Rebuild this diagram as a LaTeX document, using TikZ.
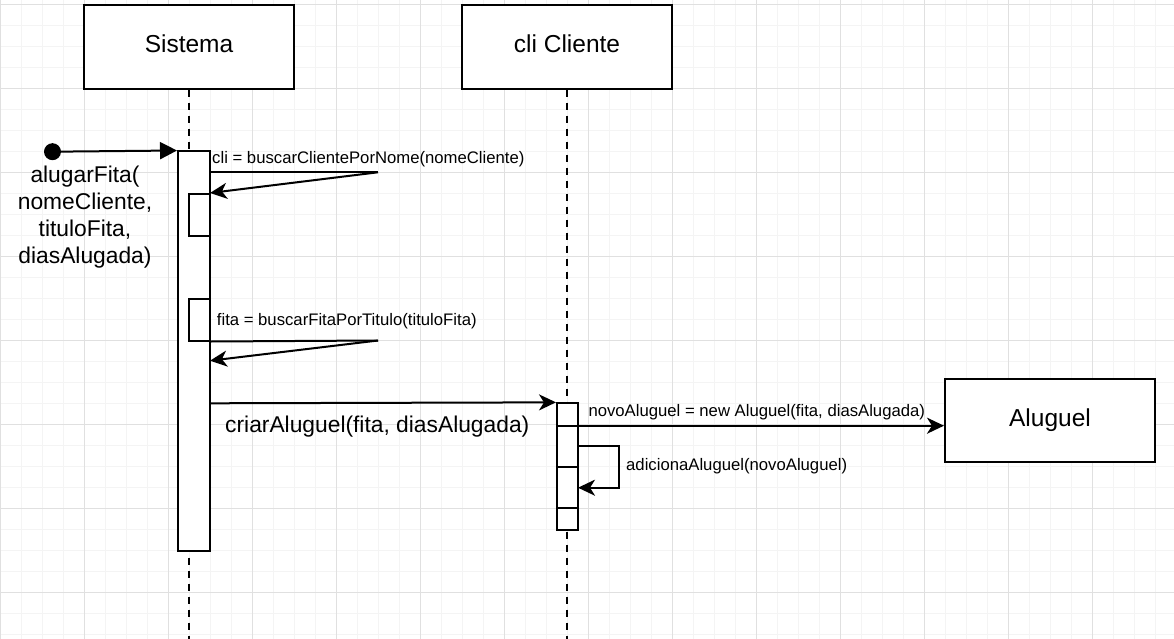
\documentclass[tikz,border=0pt]{standalone}
\usepackage{fontspec}
\setmainfont{Liberation Sans}
\usetikzlibrary{arrows.meta}
\definecolor{minorgrid}{RGB}{244,244,244}
\definecolor{majorgrid}{RGB}{224,224,224}
\tikzset{
  minorline/.style={draw=minorgrid, line width=1pt},
  majorline/.style={draw=majorgrid, line width=1pt},
  titlebox/.style={draw, line width=2pt, fill=white, minimum width=210pt, minimum height=84pt, inner sep=0pt, text height=18.4pt, text depth=6.4pt, font=\fontsize{24.5}{29}\selectfont},
  actbar/.style={draw, line width=2pt, fill=white, inner sep=0pt},
  lifeline/.style={line width=2pt, dash pattern=on 7pt off 6pt},
  msg/.style={line width=2pt, -{Stealth[length=17pt,width=16pt,inset=5pt]}},
  callmsg/.style={line width=2pt, -{Triangle[length=17pt,width=17pt]}},
  smalllabel/.style={anchor=west, inner sep=0pt, font=\fontsize{16.7}{20}\selectfont},
  biglabel/.style={inner sep=0pt, font=\fontsize{22.8}{27}\selectfont, align=center}
}
\begin{document}
\begin{tikzpicture}[x=1pt, y=-1pt]
\useasboundingbox (0,0) rectangle (1174,639);
% grid
\foreach \i in {0,...,56} \draw[minorline] ({0.3+21*\i},0) -- ({0.3+21*\i},639);
\foreach \j in {0,...,30} \draw[minorline] (0,{4.3+21*\j}) -- (1174,{4.3+21*\j});
\foreach \i in {0,...,13} \draw[majorline] ({0.3+84*\i},0) -- ({0.3+84*\i},639);
\foreach \j in {0,...,7} \draw[majorline] (0,{4.3+84*\j}) -- (1174,{4.3+84*\j});

% participants
\node[titlebox] (sis) at (189,46.7) {Sistema};
\node[titlebox] (cli) at (567,46.7) {cli Cliente};
\node[titlebox, minimum height=83pt] (alu) at (1050,420.5) {Aluguel};

% lifelines
\coordinate (sisbot) at (189,639);
\coordinate (clibot) at (567,639);
\draw[lifeline] (sis.south) -- (sisbot);
\draw[lifeline] (cli.south) -- (clibot);

% activation bars
\node[actbar, minimum width=32pt, minimum height=399.5pt] (bar1) at (194,351.25) {};
\node[actbar, minimum width=21pt, minimum height=42pt] (box1) at (199.5,215) {};
\node[actbar, minimum width=21pt, minimum height=42pt] (box2) at (199.5,319.5) {};
\node[actbar, minimum width=21pt, minimum height=126.7pt] (bar2) at (567.5,466.7) {};
\node[actbar, minimum width=21pt, minimum height=41.6pt] (box3) at (567.5,487.5) {};

% initial call
\node[circle, fill=black, minimum size=17pt, inner sep=0pt] (start) at (52.5,151.7) {};
\draw[callmsg] (start) -- (bar1.north west);
\node[biglabel] (startlbl) at (85,217) {alugarFita(\\nomeCliente,\\tituloFita,\\diasAlugada)};

% buscarClientePorNome
\coordinate (m1a) at (378,172.3);
\coordinate (m1t) at (210,193);
\draw[line width=2pt] (bar1.east |- m1a) -- (m1a);
\draw[msg] (m1a) -- (m1t);
\node[smalllabel] (m1lbl) at (212,159) {cli = buscarClientePorNome(nomeCliente)};

% buscarFitaPorTitulo
\coordinate (m2a) at (378,340.5);
\coordinate (m2t) at (210,360.7);
\draw[line width=2pt] (box2.south east) -- (m2a);
\draw[msg] (m2a) -- (m2t);
\node[smalllabel] (m2lbl) at (216.7,320.7) {fita = buscarFitaPorTitulo(tituloFita)};

% criarAluguel
\coordinate (m3a) at (210,403.3);
\draw[msg] (m3a) -- (bar2.north west);
\node[biglabel, anchor=west] (m3lbl) at (225,426.7) {criarAluguel(fita, diasAlugada)};

% new Aluguel
\coordinate (m4a) at (557,425.7);
\draw[msg] (m4a) -- (alu.west |- m4a);
\node[smalllabel] (m4lbl) at (588.3,411.7) {novoAluguel = new Aluguel(fita, diasAlugada)};

% adicionaAluguel
\coordinate (m5a) at (578,445.7);
\coordinate (m5b) at (619.3,445.7);
\coordinate (m5c) at (619.3,487.7);
\coordinate (m5t) at (578,487.7);
\draw[msg] (m5a) -- (m5b) -- (m5c) -- (m5t);
\node[smalllabel] (m5lbl) at (626,466) {adicionaAluguel(novoAluguel)};
\end{tikzpicture}
\end{document}
